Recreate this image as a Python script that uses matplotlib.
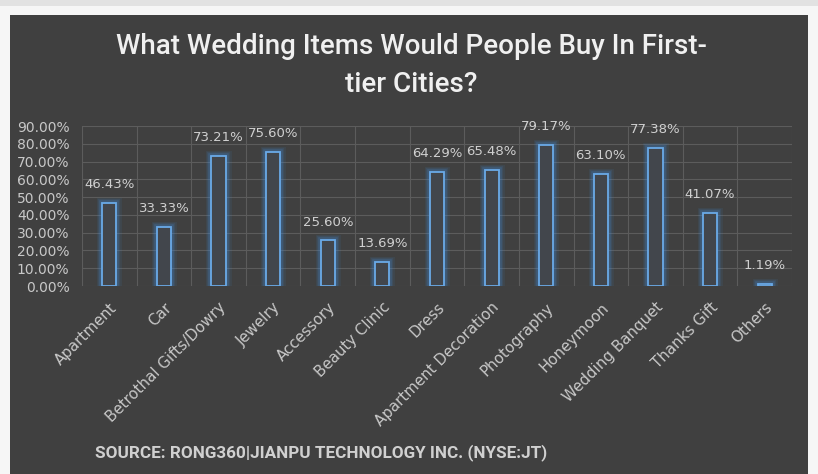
import numpy as np
import matplotlib.pyplot as plt
from matplotlib.patches import Rectangle

categories = ['Apartment', 'Car', 'Betrothal Gifts/Dowry', 'Jewelry', 'Accessory',
              'Beauty Clinic', 'Dress', 'Apartment Decoration', 'Photography',
              'Honeymoon', 'Wedding Banquet', 'Thanks Gift', 'Others']
values = [46.43, 33.33, 73.21, 75.60, 25.60, 13.69, 64.29, 65.48, 79.17,
          63.10, 77.38, 41.07, 1.19]
yticks = np.arange(0, 100, 10)

W, H = 818, 474
fig = plt.figure(figsize=(W / 100, H / 100), dpi=100)
fig.patch.set_facecolor('#f6f6f6')

# top grey strip and dark panel
fig.patches.append(Rectangle((0, 1 - 6 / H), 1, 6 / H, transform=fig.transFigure,
                             facecolor='#e2e2e2', edgecolor='none', zorder=-2))
fig.patches.append(Rectangle((10 / W, 0), 798 / W, 1 - 15 / H, transform=fig.transFigure,
                             facecolor='#404040', edgecolor='none', zorder=-2))

ax = fig.add_axes([82 / W, (H - 286) / H, 710 / W, 160 / H])
ax.set_zorder(2)
ax.set_facecolor('none')

x = np.arange(len(categories))
bw = 0.26
# glow
for lw, a in [(8, 0.08), (6, 0.12), (4, 0.2)]:
    ax.bar(x, values, width=bw, facecolor='none', edgecolor='#3f8ee0',
           linewidth=lw, alpha=a, zorder=2)
ax.bar(x, values, width=bw, facecolor='#42464c', edgecolor='#6aaae8',
       linewidth=1.3, zorder=3)

for xi, v in zip(x, values):
    ax.text(xi, v + 10.4, f'{v:.2f}%', ha='center', va='center', fontsize=9.5,
            color='#d0d0d0', zorder=4)

ax.set_xlim(-0.5, len(categories) - 0.5)
ax.set_ylim(0, 90)
ax.set_yticks(yticks)
ax.set_yticklabels([f'{t:.2f}%' for t in yticks], fontsize=10, color='#c8c8c8')
ax.set_xticks(x)
ax.set_xticklabels(categories, rotation=45, ha='right', rotation_mode='anchor',
                   fontsize=10.8, color='#c8c8c8')
ax.tick_params(axis='both', length=0)
ax.tick_params(axis='y', pad=9)
ax.tick_params(axis='x', pad=10)

# gridlines
for t in yticks:
    ax.axhline(t, color='#5c5c5c', linewidth=0.8, zorder=1)
for b in np.arange(-0.5, len(categories), 1):
    ax.axvline(b, color='#5c5c5c', linewidth=0.8, zorder=1)
for s in ax.spines.values():
    s.set_visible(False)

fig.text(411 / W, 1 - 47 / H, 'What Wedding Items Would People Buy In First-',
         ha='center', va='center', fontsize=20, color='#f0f0f0', family='Roboto',
         fontweight='medium')
fig.text(411 / W, 1 - 85 / H, 'tier Cities?',
         ha='center', va='center', fontsize=20, color='#f0f0f0', family='Roboto',
         fontweight='medium')
fig.text(95 / W, 1 - 453 / H, 'SOURCE: RONG360|JIANPU TECHNOLOGY INC. (NYSE:JT)',
         ha='left', va='center', fontsize=12.3, color='#d0d0d0', fontweight='bold',
         family='Roboto')

fig.savefig('out.png', dpi=100, facecolor=fig.get_facecolor())
